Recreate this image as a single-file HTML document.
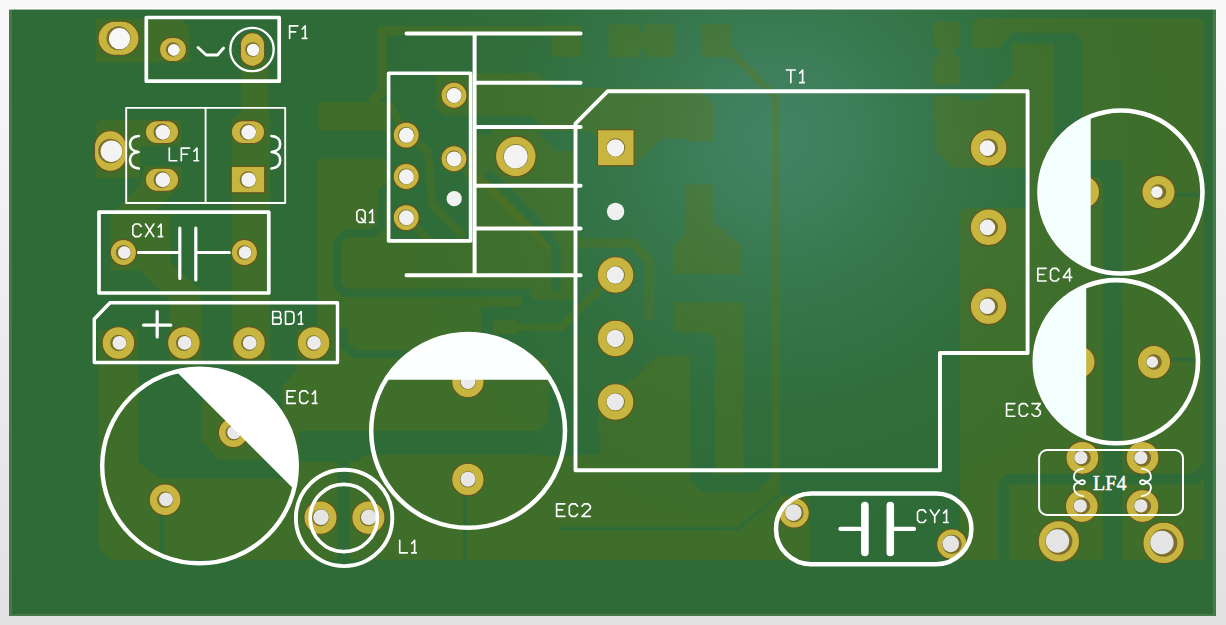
<!DOCTYPE html>
<html><head><meta charset="utf-8"><title>PCB</title>
<style>
html,body{margin:0;padding:0;width:1226px;height:625px;overflow:hidden;background:#ececec;font-family:"Liberation Sans",sans-serif;}
svg{display:block}
.s{fill:none;stroke:#fff;stroke-linejoin:round}
.r{stroke-linecap:round;stroke-linejoin:round}
.pd{fill:#c8b540;stroke:#66531f;stroke-width:1.1}
.hw{fill:#7d6f2b}
.hl{fill:url(#bg)}
.tb{font-family:"Liberation Serif",serif;font-weight:normal;fill:#fff;stroke:#fff;stroke-width:.45}
</style></head><body>
<svg width="1226" height="625" viewBox="0 0 1226 625">
<defs>
<linearGradient id="bg" gradientUnits="userSpaceOnUse" x1="0" y1="0" x2="0" y2="625"><stop offset="0" stop-color="#f9f9f9"/><stop offset="1" stop-color="#e1e1e1"/></linearGradient>
<radialGradient id="brd" gradientUnits="userSpaceOnUse" cx="778" cy="138" r="400">
<stop offset="0" stop-color="#428363"/><stop offset=".16" stop-color="#3f7f5c"/><stop offset=".4" stop-color="#36764a"/><stop offset=".68" stop-color="#306e3c"/><stop offset="1" stop-color="#2e6b37"/></radialGradient>
</defs>
<rect width="1226" height="625" fill="url(#bg)"/>
<rect x="9" y="8" width="1207" height="2" fill="#fff"/>
<rect x="9" y="9.5" width="1207" height="606.5" fill="#457a4c"/>
<rect x="12" y="10" width="1200.7" height="604" fill="url(#brd)"/>
<g opacity=".30" fill="#63750f" stroke="#63750f" stroke-linejoin="round">
<rect x="96" y="19" width="48.0" height="43.0" rx="3"/>
<polygon points="148,20 182,20 189,27 189,62 148,62"/>
<polygon points="241.3,58 267.8,58 267.8,112 269.5,120 269.5,365 232,365 232,120 241.3,112"/>
<polygon points="96,124 100,120.5 181,120.5 181,146 140,146 140,178 96,178"/>
<polygon points="145,166 181,166 181,186 150,215 170,215 170,262 201,292 201,365 170,365 170,300 140,270 111,270 111,215 140,186"/>
<polygon points="99,330 138,330 138,461 159,479 296,479 296,455 590,455 600,470 690,470 690,481 702,492.8 760.4,492.8 772,481 779,481 779,496 808.4,496 808.4,559.6 111,559.6 99,548"/>
<polygon points="202,401 215,395 262,395 299,430 299,459 218,459 202,440"/>
<polygon points="283,386 297,370 297,330 317.4,330 317.4,159.7 387,159.7 387,241 472,241 472,127.5 575.5,127.5 575.5,455 296,455 296,431 283,431"/>
<rect x="318.8" y="102.6" width="68.0" height="27.7" rx="0"/>
<polyline points="581,30.8 381.8,30.8 381.8,92 371,103" fill="none" stroke-width="9.6"/>
<rect x="552.6" y="26" width="28.4" height="30.5" rx="0"/>
<polygon points="436,73.5 537.4,73.5 552,88.1 700,88.1 712.4,104.5 712.4,141 685.5,141 685.5,138 662,138 637.8,161.5 634,166 597.5,166 597.5,138 591.3,131 547.2,131 531.3,115 444.5,115 436,107.7"/>
<polyline points="388.6,103 406.2,135.1 428,150.5 432.6,205 464,237" fill="none" stroke-width="8"/>
<polyline points="406.2,217.6 432,243" fill="none" stroke-width="8"/>
<polyline points="454,158.7 472,177" fill="none" stroke-width="7"/>
<rect x="609.1" y="25" width="29.1" height="31.5" rx="0"/>
<rect x="645.1" y="25" width="29.1" height="31.5" rx="0"/>
<rect x="636" y="32.5" width="11.0" height="17.2" rx="0"/>
<rect x="702.3" y="25" width="28.4" height="31.5" rx="0"/>
<polyline points="722,43 775.8,97 775.8,478 760,494" fill="none" stroke-width="7.6"/>
<rect x="934.6" y="22.3" width="25.0" height="25.0" rx="0"/>
<rect x="934.6" y="57.6" width="25.0" height="26.4" rx="0"/>
<rect x="940" y="45" width="14.0" height="15.0" rx="0"/>
<rect x="934.6" y="96" width="25.0" height="25.6" rx="0"/>
<polyline points="548,211 580,243 632,243 649.5,261 649.5,320" fill="none" stroke-width="9"/>
<polygon points="599,415 606,392 625,384 633.6,379 656.7,356 689.8,356 689.8,470 577.5,470 577.5,454 584.7,454 599,438"/>
<polygon points="686.5,185 712.2,185 712.2,222 741.3,246.2 741.3,273.7 674.5,273.7 674.5,246.2 686.5,232"/>
<polygon points="674.5,302.8 743,302.8 743,410 743,474 715.6,474 715.6,340 707,332 674.5,332"/>
<polygon points="972.6,23 977,18.6 1199,18.6 1203.5,23 1203.5,559.6 960.4,559.6 960.4,213 965,208.5 1030,208.5 1030,167.9 953.4,167.9 936.3,150.7 936.3,100.6 984,100.6 1011.8,74.8 1011.8,33.2 998.3,47.9 972.6,47.9"/>
</g>
<g fill="url(#brd)" stroke="url(#brd)" stroke-linejoin="round">
<polygon points="1011.8,33.2 1074.1,33.2 1081.5,40.6 1081.5,200 1054.6,200 1054.6,43 1011.8,43"/>
<polygon points="1090.7,160.5 1118,160.5 1122,164.5 1122,559.6 1103.3,559.6 1103.3,182 1097,176 1090.7,176"/>
<polyline points="1003.5,559.6 1003.5,484 1008,479.2 1195,479.2 1207,467" fill="none" stroke-width="10.8"/>
<polyline points="1171,359.4 1196,359.4" fill="none" stroke-width="4"/>
<polyline points="1175,194.6 1198,194.6" fill="none" stroke-width="4"/>
<polyline points="386.8,187 381,193 381,226 374,233.2 346.6,233.2 336.8,241.5 336.8,285.9 345.2,292.8 526.7,292.8" fill="none" stroke-width="8"/>
<polyline points="343.4,328.5 343.4,345.6 355.4,354.2 554,354.2 573,337" fill="none" stroke-width="8"/>
<polyline points="486.8,172.6 506.4,189.4 542.8,228.6 556,250 556,292" fill="none" stroke-width="9.5"/>
<polygon points="537.8,131.5 573.8,131.5 573.8,150.3 555,150.3"/>
<polyline points="476,131.8 492,131.8" fill="none" stroke-width="6"/>
<polygon points="299,431.5 600,431.5 600,454.3 365,454.3 357,461 299,461"/>
<polygon points="481.5,307.4 522.7,307.4 522.7,290 530.7,290 530.7,300 575.5,300 575.5,338 556,358.2 481.5,358.2"/>
<polygon points="549,354 575.5,337 575.5,455.3 541,455.3 541,430 549,419.6"/>
<polygon points="577.5,424 597.7,424 597.7,441.4 584,453.4 577.5,453.4"/>
<polyline points="464.9,495 464.9,559.6" fill="none" stroke-width="4"/>
<rect x="338" y="455" width="11.0" height="104.6" rx="0"/>
<polyline points="162,515 162,559.6" fill="none" stroke-width="5"/>
<polyline points="560,528.7 738,528.7 780,494" fill="none" stroke-width="3"/>
</g>
<g opacity=".30" fill="#63750f" stroke="#63750f" stroke-linejoin="round">
<rect x="494" y="320" width="22.4" height="13.7" rx="0"/>
<polyline points="478,176.5 551,249.5" fill="none" stroke-width="5.5"/>
<polyline points="516.4,327.3 561,327.3 583,305.3 606,283" fill="none" stroke-width="8"/>
</g>
<g>
<rect x="98.0" y="21.3" width="41.0" height="34.0" rx="17.0" ry="17.0" class="pd"/><circle cx="118.5" cy="38.3" r="12.0" class="hw"/><circle cx="119.50" cy="38.69" r="10.6" class="hl"/>
<rect x="159.5" y="37.4" width="27.0" height="24.2" rx="12.1" ry="12.1" class="pd"/><circle cx="173.0" cy="49.5" r="7.2" class="hw"/><circle cx="173.86" cy="49.88" r="6.0" class="hl"/>
<rect x="240.4" y="32.7" width="24.2" height="33.6" rx="12.1" ry="12.1" class="pd"/><circle cx="252.5" cy="49.5" r="7.3" class="hw"/><circle cx="253.16" cy="49.88" r="6.2" class="hl"/>
<rect x="94.5" y="130.6" width="31.8" height="40.8" rx="15.9" ry="15.9" class="pd"/><circle cx="110.4" cy="151.0" r="12.2" class="hw"/><circle cx="111.43" cy="151.22" r="10.8" class="hl"/>
<rect x="145.4" y="120.6" width="33.2" height="23.0" rx="11.5" ry="11.5" class="pd"/><circle cx="162.0" cy="132.1" r="8.5" class="hw"/><circle cx="162.89" cy="132.35" r="7.3" class="hl"/>
<rect x="145.4" y="168.2" width="33.2" height="23.0" rx="11.5" ry="11.5" class="pd"/><circle cx="162.0" cy="179.7" r="8.5" class="hw"/><circle cx="162.89" cy="179.88" r="7.3" class="hl"/>
<rect x="231.4" y="120.6" width="33.2" height="23.0" rx="11.5" ry="11.5" class="pd"/><circle cx="248.0" cy="132.1" r="8.3" class="hw"/><circle cx="248.67" cy="132.35" r="7.3" class="hl"/>
<rect x="231.3" y="166.4" width="33.4" height="26.4" class="pd"/><circle cx="248.0" cy="179.6" r="8.3" class="hw"/><circle cx="248.67" cy="179.78" r="7.3" class="hl"/>
<circle cx="123.4" cy="252.5" r="13.1" class="pd"/><circle cx="123.4" cy="252.5" r="7.6" class="hw"/><circle cx="124.39" cy="252.57" r="6.3" class="hl"/>
<circle cx="244.4" cy="252.5" r="13.1" class="pd"/><circle cx="244.4" cy="252.5" r="7.3" class="hw"/><circle cx="245.08" cy="252.57" r="6.3" class="hl"/>
<circle cx="118.4" cy="343.0" r="16.3" class="pd"/><circle cx="118.4" cy="343.0" r="8.2" class="hw"/><circle cx="119.41" cy="342.94" r="6.9" class="hl"/>
<circle cx="183.9" cy="343.0" r="16.3" class="pd"/><circle cx="183.9" cy="343.0" r="8.0" class="hw"/><circle cx="184.73" cy="342.94" r="6.9" class="hl"/>
<circle cx="249.0" cy="343.0" r="16.3" class="pd"/><circle cx="249.0" cy="343.0" r="7.9" class="hw"/><circle cx="249.67" cy="342.94" r="6.9" class="hl"/>
<circle cx="313.6" cy="343.0" r="16.3" class="pd"/><circle cx="313.6" cy="343.0" r="7.7" class="hw"/><circle cx="314.10" cy="342.94" r="6.9" class="hl"/>
<circle cx="233.4" cy="432.6" r="15.0" class="pd"/><circle cx="233.4" cy="432.6" r="7.9" class="hw"/><circle cx="234.11" cy="432.40" r="6.9" class="hl"/>
<circle cx="165.1" cy="499.7" r="15.8" class="pd"/><circle cx="165.1" cy="499.7" r="8.1" class="hw"/><circle cx="165.98" cy="499.40" r="6.9" class="hl"/>
<circle cx="320.5" cy="517.6" r="16.6" class="pd"/><circle cx="320.5" cy="517.6" r="8.7" class="hw"/><circle cx="320.98" cy="517.27" r="7.8" class="hl"/>
<circle cx="368.4" cy="517.6" r="16.6" class="pd"/><circle cx="368.4" cy="517.6" r="8.6" class="hw"/><circle cx="368.76" cy="517.27" r="7.8" class="hl"/>
<circle cx="467.9" cy="381.5" r="16.2" class="pd"/><circle cx="467.9" cy="381.5" r="8.0" class="hw"/><circle cx="468.00" cy="381.38" r="7.5" class="hl"/>
<circle cx="467.9" cy="479.4" r="16.2" class="pd"/><circle cx="467.9" cy="479.4" r="8.1" class="hw"/><circle cx="468.00" cy="479.13" r="7.5" class="hl"/>
<circle cx="406.2" cy="135.1" r="13.0" class="pd"/><circle cx="406.2" cy="135.1" r="8.2" class="hw"/><circle cx="406.46" cy="135.35" r="7.5" class="hl"/>
<circle cx="406.2" cy="176.5" r="13.0" class="pd"/><circle cx="406.2" cy="176.5" r="8.1" class="hw"/><circle cx="406.46" cy="176.69" r="7.5" class="hl"/>
<circle cx="406.2" cy="217.6" r="13.0" class="pd"/><circle cx="406.2" cy="217.6" r="8.1" class="hw"/><circle cx="406.46" cy="217.72" r="7.5" class="hl"/>
<circle cx="454.0" cy="95.2" r="13.0" class="pd"/><circle cx="454.0" cy="95.2" r="8.1" class="hw"/><circle cx="454.13" cy="95.51" r="7.5" class="hl"/>
<circle cx="454.0" cy="158.7" r="13.0" class="pd"/><circle cx="454.0" cy="158.7" r="8.1" class="hw"/><circle cx="454.13" cy="158.91" r="7.5" class="hl"/>
<circle cx="454.2" cy="198.7" r="7.6" class="hl"/>
<circle cx="515.8" cy="156.4" r="20.3" class="pd"/><circle cx="515.8" cy="156.4" r="12.4" class="hw"/><circle cx="515.77" cy="156.62" r="11.9" class="hl"/>
<rect x="597.5" y="129.7" width="36.6" height="36.0" class="pd"/><circle cx="615.8" cy="147.7" r="9.4" class="hw"/><circle cx="615.51" cy="147.93" r="8.7" class="hl"/>
<circle cx="615.6" cy="211.5" r="8.7" class="hl"/>
<circle cx="615.6" cy="275.0" r="18.3" class="pd"/><circle cx="615.6" cy="275.0" r="9.3" class="hw"/><circle cx="615.31" cy="275.04" r="8.7" class="hl"/>
<circle cx="615.6" cy="338.5" r="18.3" class="pd"/><circle cx="615.6" cy="338.5" r="9.3" class="hw"/><circle cx="615.31" cy="338.44" r="8.7" class="hl"/>
<circle cx="615.6" cy="402.0" r="18.3" class="pd"/><circle cx="615.6" cy="402.0" r="9.3" class="hw"/><circle cx="615.31" cy="401.85" r="8.7" class="hl"/>
<circle cx="988.6" cy="147.9" r="18.3" class="pd"/><circle cx="988.6" cy="147.9" r="9.4" class="hw"/><circle cx="987.34" cy="148.13" r="7.8" class="hl"/>
<circle cx="988.6" cy="227.3" r="18.3" class="pd"/><circle cx="988.6" cy="227.3" r="9.4" class="hw"/><circle cx="987.34" cy="227.41" r="7.8" class="hl"/>
<circle cx="988.6" cy="306.3" r="18.3" class="pd"/><circle cx="988.6" cy="306.3" r="9.4" class="hw"/><circle cx="987.34" cy="306.29" r="7.8" class="hl"/>
<circle cx="1083.0" cy="192.0" r="16.6" class="pd"/><circle cx="1083.0" cy="192.0" r="7.8" class="hw"/><circle cx="1081.50" cy="192.16" r="6.0" class="hl"/>
<circle cx="1158.5" cy="192.0" r="16.6" class="pd"/><circle cx="1158.5" cy="192.0" r="7.8" class="hw"/><circle cx="1156.80" cy="192.16" r="5.8" class="hl"/>
<circle cx="1078.5" cy="362.0" r="16.6" class="pd"/><circle cx="1078.5" cy="362.0" r="7.8" class="hw"/><circle cx="1077.01" cy="361.91" r="6.0" class="hl"/>
<circle cx="1154.0" cy="362.1" r="16.6" class="pd"/><circle cx="1154.0" cy="362.1" r="7.8" class="hw"/><circle cx="1152.31" cy="362.01" r="5.8" class="hl"/>
<circle cx="1082.4" cy="457.8" r="16.4" class="pd"/><circle cx="1082.4" cy="457.8" r="8.4" class="hw"/><circle cx="1080.90" cy="457.56" r="6.6" class="hl"/>
<circle cx="1142.5" cy="457.8" r="16.4" class="pd"/><circle cx="1142.5" cy="457.8" r="8.6" class="hw"/><circle cx="1140.84" cy="457.56" r="6.6" class="hl"/>
<circle cx="1081.8" cy="506.1" r="16.4" class="pd"/><circle cx="1081.8" cy="506.1" r="8.4" class="hw"/><circle cx="1080.30" cy="505.79" r="6.6" class="hl"/>
<circle cx="1142.5" cy="506.1" r="16.4" class="pd"/><circle cx="1142.5" cy="506.1" r="8.6" class="hw"/><circle cx="1140.84" cy="505.79" r="6.6" class="hl"/>
<circle cx="1058.9" cy="541.3" r="20.7" class="pd"/><circle cx="1058.9" cy="541.3" r="13.5" class="hw"/><circle cx="1057.46" cy="540.94" r="11.7" class="hl"/>
<circle cx="1163.6" cy="542.9" r="20.7" class="pd"/><circle cx="1163.6" cy="542.9" r="13.8" class="hw"/><circle cx="1161.89" cy="542.54" r="11.7" class="hl"/>
<circle cx="794.1" cy="512.9" r="15.2" class="pd"/><circle cx="794.1" cy="512.9" r="9.4" class="hw"/><circle cx="793.35" cy="512.58" r="8.3" class="hl"/>
<circle cx="951.9" cy="544.2" r="15.2" class="pd"/><circle cx="951.9" cy="544.2" r="9.8" class="hw"/><circle cx="950.74" cy="543.83" r="8.3" class="hl"/>
</g>
<g>
<rect x="146.3" y="17.5" width="132.9" height="63.7" class="s" stroke-width="3.7"/>
<circle cx="252" cy="49.5" r="21.7" class="s" stroke-width="2.3"/>
<polyline points="198,47.5 206.2,55 217.5,55 223.6,48" class="s r" stroke-width="2.8"/>
<rect x="126.2" y="107.9" width="159" height="95.1" class="s" stroke-width="1.9"/>
<line x1="205.6" y1="107.8" x2="205.6" y2="203.1" class="s" stroke-width="1.9"/>
<path d="M138.8,136 C132,136.5 130,140 130,144 C130,149.5 134,151.5 138.6,152 C134,152.5 130,154.5 130,160 C130,164 132,167.8 138.8,168.5" class="s r" stroke-width="2.6"/>
<path d="M271.4,136 C278.2,136.5 280.2,140 280.2,144 C280.2,149.5 276.2,151.5 271.6,152 C276.2,152.5 280.2,154.5 280.2,160 C280.2,164 278.2,167.8 271.4,168.5" class="s r" stroke-width="2.6"/>
<rect x="99" y="212.1" width="169.8" height="80.9" class="s" stroke-width="3.7"/>
<path d="M138.5,252.5 H179.8 M179.8,228 V278.5 M195.8,228 V280 M195.8,252.5 H229.3" class="s r" stroke-width="3.2"/>
<path d="M110,302.7 H337.5 V362.5 H94.3 V319 Z" class="s" stroke-width="3.4"/>
<path d="M143.5,325.1 H170.8 M157.2,311.5 V337" class="s r" stroke-width="3.2"/>
<circle cx="199.5" cy="466" r="97.3" class="s" stroke-width="4.4"/>
<clipPath id="cEC1"><polygon points="176.3,371.5 300,495.2 400,495.2 400,300 176.3,300"/></clipPath>
<circle cx="199.5" cy="466" r="97.3" fill="#fff" clip-path="url(#cEC1)"/>
<circle cx="344.1" cy="517.9" r="48.2" class="s" stroke-width="3.9"/>
<circle cx="343.8" cy="518" r="33.6" class="s" stroke-width="3.6"/>
<circle cx="468.1" cy="430.9" r="96.9" class="s" stroke-width="4.5"/>
<clipPath id="cEC2"><rect x="360" y="320" width="220" height="59.7"/></clipPath>
<circle cx="468.1" cy="430.9" r="97" fill="#fcffff" clip-path="url(#cEC2)"/>
<rect x="388.6" y="73.3" width="82" height="167.6" class="s" stroke-width="3.6"/>
<path d="M406.5,33.5 H580.6 M474.6,33.5 V275.2 M474.6,82.8 H580.6 M474.6,126.9 H580.6 M474.6,185.7 H580.6 M474.6,228.4 H580.6 M406.5,275.2 H580.6" class="s r" stroke-width="4"/>
<path d="M575.5,123.6 L607.8,91.2 H1027.6 V353 H940 V470.3 H575.5 Z" class="s" stroke-width="3.9"/>
<circle cx="1121" cy="192" r="81.5" class="s" stroke="#f4ffff" stroke-width="4.6"/>
<clipPath id="cEC4"><rect x="1030" y="100" width="60.7" height="190"/></clipPath>
<circle cx="1121" cy="192" r="82" fill="#f4ffff" clip-path="url(#cEC4)"/>
<circle cx="1116.4" cy="361.7" r="81.6" class="s" stroke="#f4ffff" stroke-width="4.6"/>
<clipPath id="cEC3"><rect x="1025" y="270" width="61.2" height="190"/></clipPath>
<circle cx="1116.4" cy="361.7" r="82" fill="#f4ffff" clip-path="url(#cEC3)"/>
<rect x="1039.1" y="450" width="143.9" height="65" rx="8" ry="8" class="s" stroke-width="2"/>
<path d="M1083,468.6 C1078,469 1074.5,472 1074,476 C1073.7,479 1075.5,481.5 1079,481.8 C1082,479 1085.5,480.5 1084.8,482.8 C1084,485 1080.5,484.6 1079,482.6 C1075.5,483 1073.7,485.5 1074,488.5 C1074.5,492.5 1078,495.6 1083,496.1" class="s r" stroke-width="1.9"/>
<path d="M1141.9,468.6 C1146.9,469 1150.4,472 1150.9,476 C1151.2,479 1149.4,481.5 1145.9,481.8 C1142.9,479 1139.4,480.5 1140.1,482.8 C1140.9,485 1144.4,484.6 1145.9,482.6 C1149.4,483 1151.2,485.5 1150.9,488.5 C1150.4,492.5 1146.9,495.6 1141.9,496.1" class="s r" stroke-width="1.9"/>
<rect x="776" y="493.5" width="195.4" height="70.8" rx="35.4" ry="35.4" class="s" stroke="#f8ffff" stroke-width="4.5"/>
<path d="M840.5,528.9 H864 M891,528.9 H914" class="s r" stroke="#f8ffff" stroke-width="4.3"/>
<path d="M864.9,505.5 V552.5 M890.3,505.5 V552.5" class="s r" stroke="#f8ffff" stroke-width="7.6"/>
</g>
<g fill="none" stroke="#fff" stroke-width="1.65" stroke-linecap="round" stroke-linejoin="round">
<path transform="translate(289.62,25.82)" d="M8.3,0 H0 V12.6 M0,6.1 H6"/><path transform="translate(302.32,25.82)" d="M0,3.2 L2.9,0 V12.6 M0,12.6 H4.5"/>
<path transform="translate(169.32,148.12)" d="M0,0 V12.6 H7.6"/><path transform="translate(181.32,148.12)" d="M8.3,0 H0 V12.6 M0,6.1 H6"/><path transform="translate(194.02,148.12)" d="M0,3.2 L2.9,0 V12.6 M0,12.6 H4.5"/>
<path transform="translate(132.82,224.02)" d="M8.3,2.4 L6.1,0 H2.3 L0,2.3 V10.3 L2.3,12.6 H6.1 L8.3,10.2"/><path transform="translate(145.52,224.02)" d="M0,0 L8.3,12.6 M8.3,0 L0,12.6"/><path transform="translate(158.22,224.02)" d="M0,3.2 L2.9,0 V12.6 M0,12.6 H4.5"/>
<path transform="translate(272.72,311.52)" d="M0,0 V12.6 H5.9 Q8.4,12.6 8.4,10.2 V8.5 Q8.4,6.1 5.9,6.1 H0 M5.9,6.1 Q7.8,6.1 7.8,4.2 V2 Q7.8,0 5.6,0 H0"/><path transform="translate(285.52,311.52)" d="M0,0 V12.6 H4.9 Q8.4,12.6 8.4,9.1 V3.5 Q8.4,0 4.9,0 Z"/><path transform="translate(298.32,311.52)" d="M0,3.2 L2.9,0 V12.6 M0,12.6 H4.5"/>
<path transform="translate(287.02,390.82)" d="M8.3,0 H0 V12.6 H8.3 M0,6.1 H6"/><path transform="translate(299.72,390.82)" d="M8.3,2.4 L6.1,0 H2.3 L0,2.3 V10.3 L2.3,12.6 H6.1 L8.3,10.2"/><path transform="translate(312.42,390.82)" d="M0,3.2 L2.9,0 V12.6 M0,12.6 H4.5"/>
<path transform="translate(556.62,503.82)" d="M8.3,0 H0 V12.6 H8.3 M0,6.1 H6"/><path transform="translate(569.33,503.82)" d="M8.3,2.4 L6.1,0 H2.3 L0,2.3 V10.3 L2.3,12.6 H6.1 L8.3,10.2"/><path transform="translate(582.03,503.82)" d="M0,2.3 L2.3,0 H6 L8.3,2.3 V4.6 L0,12.6 H8.3"/>
<path transform="translate(399.72,540.33)" d="M0,0 V12.6 H7.6"/><path transform="translate(411.72,540.33)" d="M0,3.2 L2.9,0 V12.6 M0,12.6 H4.5"/>
<path transform="translate(356.82,209.72)" d="M2.3,0 H6 L8.3,2.3 V10.3 L6,12.6 H2.3 L0,10.3 V2.3 Z M4.4,8.4 L8.6,12.9"/><path transform="translate(369.52,209.72)" d="M0,3.2 L2.9,0 V12.6 M0,12.6 H4.5"/>
<path transform="translate(786.33,70.03)" d="M0,0 H9 M4.5,0 V12.6"/><path transform="translate(799.73,70.03)" d="M0,3.2 L2.9,0 V12.6 M0,12.6 H4.5"/>
<path transform="translate(1037.83,268.43)" d="M8.3,0 H0 V12.6 H8.3 M0,6.1 H6"/><path transform="translate(1050.53,268.43)" d="M8.3,2.4 L6.1,0 H2.3 L0,2.3 V10.3 L2.3,12.6 H6.1 L8.3,10.2"/><path transform="translate(1063.23,268.43)" d="M6.4,12.6 V0 L0,8.9 H8.6"/>
<path transform="translate(1006.58,403.62)" d="M8.3,0 H0 V12.6 H8.3 M0,6.1 H6"/><path transform="translate(1019.28,403.62)" d="M8.3,2.4 L6.1,0 H2.3 L0,2.3 V10.3 L2.3,12.6 H6.1 L8.3,10.2"/><path transform="translate(1031.98,403.62)" d="M0,0 H8.3 L4,5.4 H6 L8.3,7.7 V10.3 L6,12.6 H2.3 L0,10.5"/>
<path transform="translate(917.53,509.93)" d="M8.3,2.4 L6.1,0 H2.3 L0,2.3 V10.3 L2.3,12.6 H6.1 L8.3,10.2"/><path transform="translate(930.23,509.93)" d="M0,0 L4.5,6.4 L9,0 M4.5,6.4 V12.6"/><path transform="translate(943.63,509.93)" d="M0,3.2 L2.9,0 V12.6 M0,12.6 H4.5"/>
</g>
<text x="1093" y="489.9" textLength="33.4" lengthAdjust="spacingAndGlyphs" font-size="20" class="tb">LF4</text>
</svg>
</body></html>
